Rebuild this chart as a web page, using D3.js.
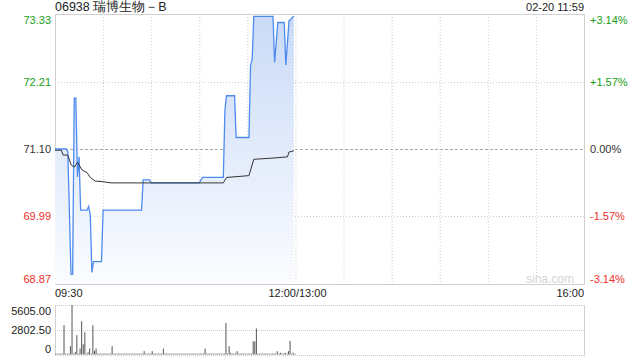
<!DOCTYPE html>
<html>
<head>
<meta charset="utf-8">
<script src="https://cdn.jsdelivr.net/npm/d3@7/dist/d3.min.js"></script>
<style>
  html, body { margin: 0; padding: 0; background: #fff; }
  svg { display: block; font-family: "Liberation Sans", Arial, sans-serif; }
</style>
</head>
<body>
<svg id="chart" width="640" height="360"></svg>
<script>
// chart data
const title = '06938 瑞博生物－B';
const stamp = '02-20 11:59';
const prevClose = 71.10;

const priceTicks = [73.33, 72.21, 71.10, 69.99, 68.87];
const pctTicks = ['+3.14%', '+1.57%', '0.00%', '-1.57%', '-3.14%'];
const timeTicks = ['09:30', '12:00/13:00', '16:00'];
const volTicks = [5605, 2802.5, 0];

// price line (key points)
const priceTimes = ['09:30', '09:37', '09:38', '09:40', '09:41', '09:42', '09:43', '09:44', '09:45', '09:46',
  '09:50', '09:51', '09:52', '09:53', '09:54', '09:59', '10:00', '10:24', '10:25', '10:29',
  '10:30', '11:00', '11:02', '11:15', '11:16', '11:17', '11:22', '11:23', '11:31', '11:32',
  '11:33', '11:34', '11:46', '11:47', '11:49', '11:53', '11:54', '11:56', '11:57', '11:59'];
const prices = [71.10, 71.10, 71.05, 69.03, 69.03, 71.94, 71.94, 70.64, 70.97, 70.09,
  70.09, 70.15, 70.01, 69.06, 69.24, 69.24, 70.09, 70.09, 70.59, 70.59,
  70.54, 70.54, 70.63, 70.63, 71.74, 71.98, 71.98, 71.29, 71.29, 72.49,
  72.58, 73.29, 73.29, 72.53, 73.19, 73.19, 72.49, 73.22, 73.24, 73.30];

// average price line
const avgTimes = ['09:30', '09:34', '09:35', '09:38', '09:40', '09:42', '09:44', '09:47', '09:50', '09:52',
  '09:55', '10:00', '10:05', '11:15', '11:17', '11:31', '11:34', '11:46', '11:55', '11:56', '11:59'];
const avgPrices = [71.08, 71.08, 71.00, 71.00, 70.84, 70.80, 70.88, 70.75, 70.71, 70.63,
  70.57, 70.56, 70.54, 70.54, 70.63, 70.66, 70.93, 70.95, 70.97, 71.05, 71.07];

// volume per minute, 09:30 .. 11:59
const volumes = [
  100, 100, 100, 100, 100, 3320, 100, 100, 100, 940,
  5605, 100, 300, 2190, 100, 680, 3770, 1170, 2530, 100,
  250, 680, 100, 3320, 410, 680, 100, 100, 100, 100,
  100, 100, 100, 100, 100, 940, 100, 100, 100, 100,
  100, 100, 100, 100, 100, 100, 100, 100, 100, 100,
  100, 100, 100, 100, 100, 380, 100, 100, 100, 100,
  380, 100, 100, 100, 100, 100, 100, 680, 100, 100,
  100, 100, 100, 100, 100, 100, 100, 100, 100, 100,
  100, 100, 100, 100, 100, 100, 100, 100, 100, 100,
  100, 100, 100, 680, 100, 100, 100, 100, 100, 100,
  100, 100, 100, 100, 100, 100, 3580, 100, 940, 190,
  100, 100, 100, 380, 100, 100, 100, 100, 100, 100,
  100, 100, 100, 1500, 1500, 2940, 100, 100, 100, 100,
  100, 100, 100, 100, 100, 100, 100, 100, 380, 100,
  190, 100, 100, 190, 100, 380, 1550, 100, 200, 100
];

const green = '#16a016', red = '#f0302a', ink = '#333';

// minutes of trading since 09:30, lunch break removed
const toMinute = s => {
  const [h, m] = s.split(/[:/]/).map(Number);
  const t = h * 60 + m;
  return t < 780 ? t - 570 : t - 780 + 150;
};

const svg = d3.select('#chart');
const plotL = 55, plotR = 584, plotT = 14, plotB = 284;
const volT = 305, volB = 354.5;

const x = d3.scaleLinear().domain([0, 330]).range([plotL, plotR]);
const y = d3.scaleLinear().domain([68.87, 73.33]).range([plotB, plotT]);
const yv = d3.scaleLinear().domain([0, 5605]).range([volB, volT]);

// gradient for the area under the price
const grad = svg.append('defs').append('linearGradient')
  .attr('id', 'areaFill')
  .attr('gradientUnits', 'userSpaceOnUse')
  .attr('x1', 0).attr('y1', plotT).attr('x2', 0).attr('y2', plotB);
grad.append('stop').attr('offset', 0).attr('stop-color', '#c9daf7');
grad.append('stop').attr('offset', 1).attr('stop-color', '#fbfcff');

// grid
const grid = svg.append('g');
d3.range(30, 330, 30).forEach(m => {
  grid.append('line')
    .attr('x1', x(m) + 0.5).attr('x2', x(m) + 0.5)
    .attr('y1', plotT).attr('y2', plotB)
    .attr('stroke', '#ccc').attr('stroke-dasharray', '1,2');
});
priceTicks.slice(1, -1).forEach(p => {
  const mid = p === prevClose;
  grid.append('line')
    .attr('x1', plotL).attr('x2', plotR)
    .attr('y1', Math.round(y(p)) + 0.5).attr('y2', Math.round(y(p)) + 0.5)
    .attr('stroke', mid ? '#aaa' : '#ccc')
    .attr('stroke-dasharray', mid ? '3,2' : '1,2');
});

// frame
svg.append('path')
  .attr('d', `M${plotL + 0.5},${plotB + 0.5}V${plotT + 0.5}H${plotR + 0.5}V${plotB + 0.5}H${plotL + 0.5}`)
  .attr('fill', 'none').attr('stroke', '#d0d0d0');

// watermark
svg.append('text')
  .attr('x', 574).attr('y', 283)
  .attr('text-anchor', 'end')
  .attr('font-size', 12).attr('fill', '#d4d4d4')
  .text('sina.com');

// price area + line
const pts = priceTimes.map((t, i) => [toMinute(t), prices[i]]);
svg.append('path')
  .datum(pts)
  .attr('fill', 'url(#areaFill)')
  .attr('d', d3.area().x(d => x(d[0])).y0(plotB).y1(d => y(d[1])));
svg.append('path')
  .datum(pts)
  .attr('fill', 'none').attr('stroke', '#4d8bef').attr('stroke-width', 1.3)
  .attr('d', d3.line().x(d => x(d[0])).y(d => y(d[1])));

const avgPts = avgTimes.map((t, i) => [toMinute(t), avgPrices[i]]);
svg.append('path')
  .datum(avgPts)
  .attr('fill', 'none').attr('stroke', '#333').attr('stroke-width', 1)
  .attr('d', d3.line().x(d => x(d[0])).y(d => y(d[1])));

// price axis (left) and percent axis (right)
const colorOf = p => p > prevClose ? green : p < prevClose ? red : ink;
const labelDy = (i, n) => i === 0 ? '0.85em' : i === n - 1 ? '-0.1em' : '0.32em';

const axL = svg.append('g')
  .attr('transform', `translate(${plotL},0)`)
  .call(d3.axisLeft(y).tickValues(priceTicks).tickSize(0).tickPadding(4).tickFormat(d3.format('.2f')));
axL.select('.domain').remove();
axL.selectAll('text')
  .attr('font-size', 11).attr('font-family', null)
  .attr('fill', d => colorOf(d))
  .attr('dy', (d, i) => labelDy(i, priceTicks.length));

const axR = svg.append('g')
  .attr('transform', `translate(${plotR},0)`)
  .call(d3.axisRight(y).tickValues(priceTicks).tickSize(0).tickPadding(6)
    .tickFormat((d, i) => pctTicks[i]));
axR.select('.domain').remove();
axR.selectAll('text')
  .attr('font-size', 11).attr('font-family', null)
  .attr('fill', d => colorOf(d))
  .attr('dy', (d, i) => labelDy(i, priceTicks.length));

// time labels
const timeAnchor = ['start', 'middle', 'end'];
timeTicks.forEach((t, i) => {
  svg.append('text')
    .attr('x', x(toMinute(t)) + (i === 1 ? 2 : 0)).attr('y', 297)
    .attr('text-anchor', timeAnchor[i])
    .attr('font-size', 11).attr('fill', '#222')
    .text(t);
});

// title and timestamp
svg.append('text').attr('x', plotL).attr('y', 11)
  .attr('font-size', 12.5).attr('fill', '#222').text(title);
svg.append('text').attr('x', plotR).attr('y', 11)
  .attr('text-anchor', 'end')
  .attr('font-size', 11).attr('fill', '#222').text(stamp);

// volume panel
volTicks.forEach(v => {
  svg.append('line')
    .attr('x1', plotL).attr('x2', plotR)
    .attr('y1', Math.round(yv(v)) + 0.5).attr('y2', Math.round(yv(v)) + 0.5)
    .attr('stroke', '#ccc').attr('stroke-dasharray', '1,1');
});
svg.append('line')
  .attr('x1', plotL + 0.5).attr('x2', plotL + 0.5).attr('y1', volT).attr('y2', volB + 1)
  .attr('stroke', '#d0d0d0');
svg.append('line')
  .attr('x1', plotR + 0.5).attr('x2', plotR + 0.5).attr('y1', volT).attr('y2', volB + 1)
  .attr('stroke', '#d0d0d0');

svg.append('g').selectAll('rect')
  .data(volumes)
  .join('rect')
  .attr('x', (d, i) => x(i) + 0.5)
  .attr('width', 1)
  .attr('y', d => yv(d))
  .attr('height', d => volB - yv(d))
  .attr('fill', '#555');

const axV = svg.append('g')
  .attr('transform', `translate(${plotL},0)`)
  .call(d3.axisLeft(yv).tickValues(volTicks).tickSize(0).tickPadding(4)
    .tickFormat(d => d === 0 ? '0' : d3.format('.2f')(d)));
axV.select('.domain').remove();
axV.selectAll('text')
  .attr('font-size', 11).attr('font-family', null).attr('fill', '#222')
  .attr('dy', (d, i) => i === 0 ? '0.85em' : i === volTicks.length - 1 ? '-0.15em' : '0.32em');
</script>
</body>
</html>
